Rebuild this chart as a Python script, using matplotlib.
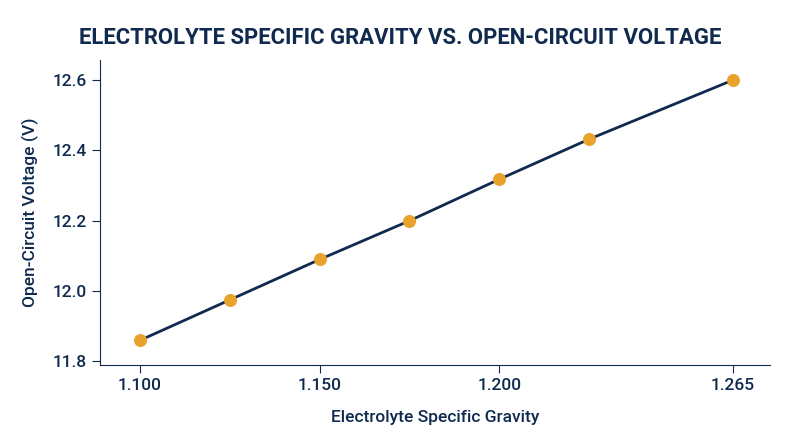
import matplotlib
matplotlib.use("Agg")
import matplotlib.pyplot as plt

gravity = [1.100, 1.125, 1.150, 1.175, 1.200, 1.225, 1.265]
voltage = [11.86, 11.975, 12.09, 12.20, 12.318, 12.432, 12.60]
xticks = [1.100, 1.150, 1.200, 1.265]
xticklabels = ["1.100", "1.150", "1.200", "1.265"]
yticks = [11.8, 12.0, 12.2, 12.4, 12.6]

plt.rcParams['font.family'] = ['Roboto', 'DejaVu Sans']
navy = "#0f2a4e"
orange = "#e9a22c"

fig = plt.figure(figsize=(8, 4.47), dpi=100)
ax = fig.add_axes([100/800, 1-365/447, 670/800, 305/447])
ax.plot(gravity, voltage, color=navy, lw=2, zorder=2)
ax.scatter(gravity, voltage, s=70, color=orange, zorder=3)
ax.set_xlim(1.0889, 1.2753)
ax.set_ylim(11.79, 12.657)
ax.set_xticks(xticks)
ax.set_xticklabels(xticklabels)
ax.set_yticks(yticks)
ax.set_yticklabels([f"{v:.1f}" for v in yticks])
for s in ["top", "right"]:
    ax.spines[s].set_visible(False)
for s in ["left", "bottom"]:
    ax.spines[s].set_color(navy)
ax.tick_params(colors=navy, labelsize=12.5, length=6)
for lab in ax.get_xticklabels() + ax.get_yticklabels():
    lab.set_fontweight("medium")
ax.set_xlabel("Electrolyte Specific Gravity", color=navy, fontsize=12.5, labelpad=12, fontweight="medium")
ax.set_ylabel("Open-Circuit Voltage (V)", color=navy, fontsize=12.5, labelpad=10, fontweight="medium")
fig.text(0.5, 1-38/447, "ELECTROLYTE SPECIFIC GRAVITY VS. OPEN-CIRCUIT VOLTAGE",
         ha="center", va="center", fontsize=15.9, fontweight="bold", color=navy)
fig.savefig("out.png", dpi=100)
